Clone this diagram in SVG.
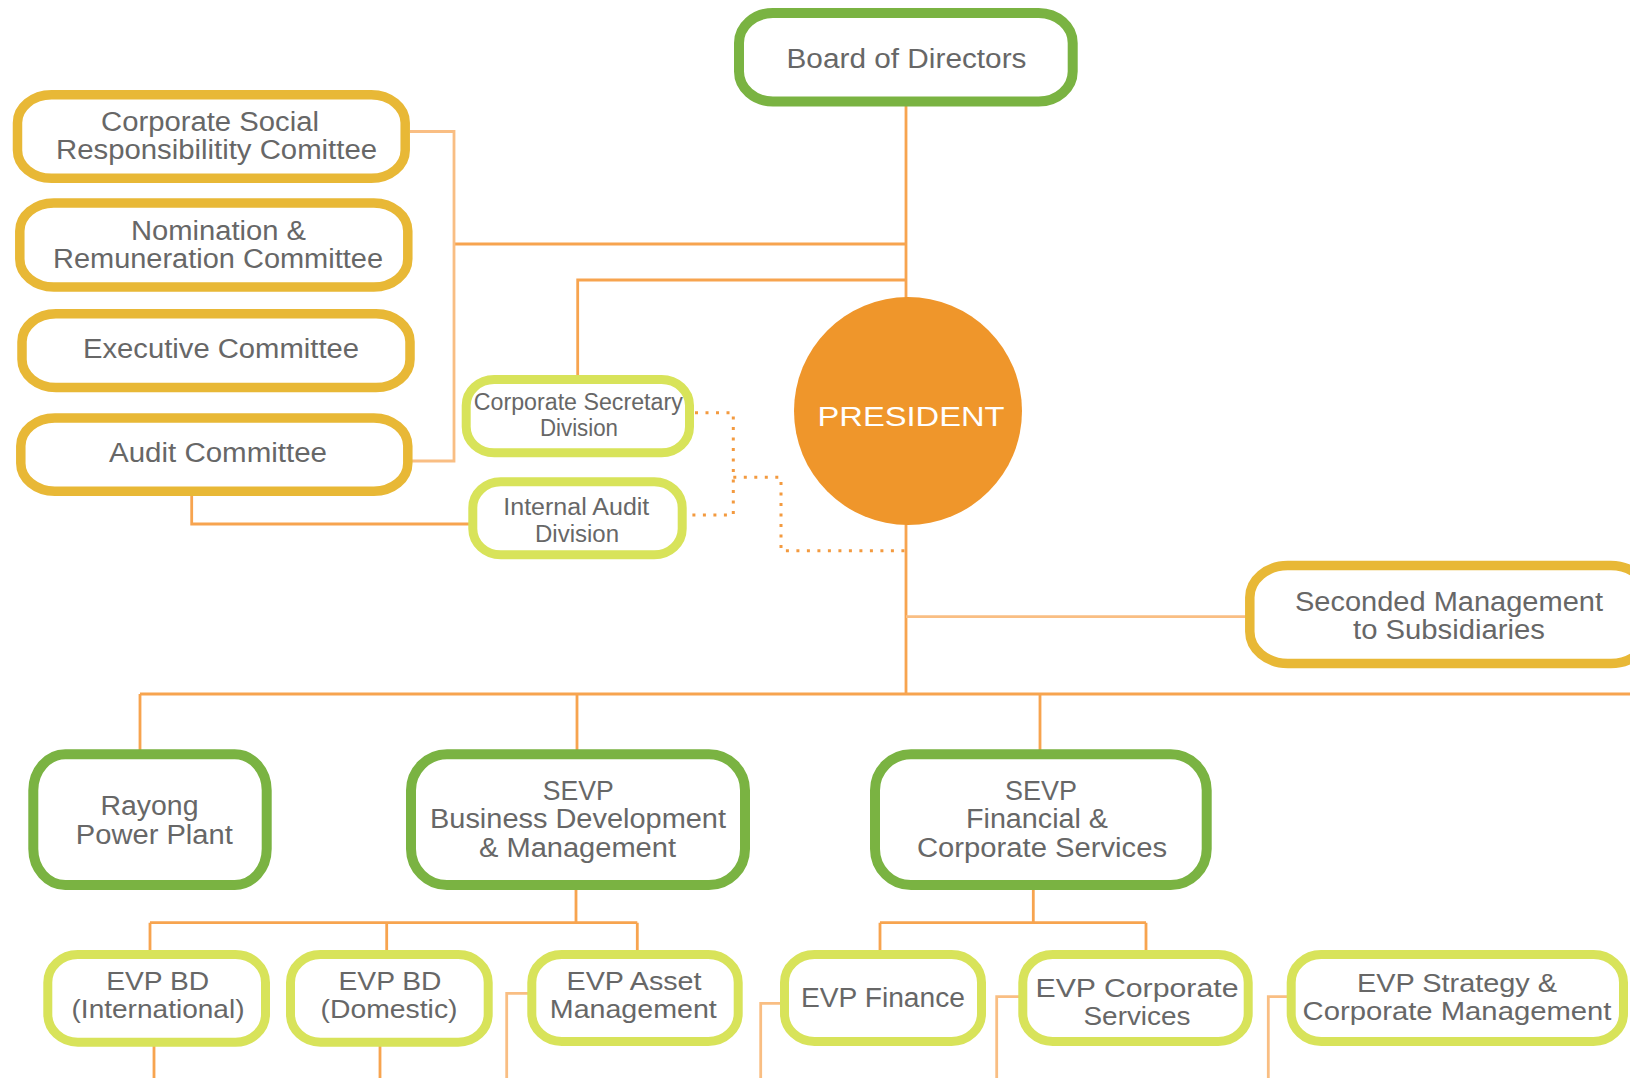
<svg xmlns="http://www.w3.org/2000/svg" width="1630" height="1078" viewBox="0 0 1630 1078">
<style>
.t{font-family:"Liberation Sans",Arial,sans-serif;font-size:27px;fill:#676767;text-anchor:middle}
.e{font-size:26px}
.s{font-size:23px}
.y{fill:#fff;stroke:#E8B836;stroke-width:9.5}
.g{fill:#fff;stroke:#7AB342;stroke-width:10}
.l{fill:#fff;stroke:#D8E35A;stroke-width:9}
.c{fill:none;stroke:#F7A44F;stroke-width:2.8}
.p{fill:none;stroke:#F9BE83;stroke-width:2.8}
.d{fill:none;stroke:#F39A3F;stroke-width:3;stroke-dasharray:3 7.5}
</style>
<rect width="1630" height="1078" fill="#fff"/>
<g id="connectors">
<path class="c" d="M906,106 V695"/>
<path class="c" d="M454,244 H906"/>
<path class="p" d="M410,131.5 H454 V461 H412"/>
<path class="c" d="M906,280 H577.7 V376"/>
<path class="c" d="M191.7,496 V524 H469"/>
<path class="p" d="M906,616.7 H1246"/>
<path class="c" d="M140,694 H1630 M140,694 V750 M577,694 V750 M1040,694 V750"/>
<path class="c" d="M576,890 V922.7 M150,922.7 H637.3 M150,922.7 V951 M386.7,922.7 V951 M637.3,922.7 V951"/>
<path class="c" d="M1033.3,890 V922.7 M880,922.7 H1146 M880,922.7 V951 M1146,922.7 V951"/>
<path class="c" d="M154,1046 V1078 M380,1046 V1078"/>
<path class="p" d="M532,993.3 H506.7 V1078 M781,1003.3 H760.7 V1078 M1019,996.7 H996.7 V1078 M1287,996.7 H1268.3 V1078"/>
<path class="d" d="M695,412.7 H733.3 V515 H687 M733.3,477.3 H781 V550.7 H906"/>
</g>
<g id="board"><rect class="g" x="739" y="13" width="333.7" height="88.6" rx="34" ry="30"/><text class="t" x="906.5" y="68" font-size="28" textLength="240" lengthAdjust="spacingAndGlyphs">Board of Directors</text></g>
<g id="csr"><rect class="y" x="17.5" y="94.8" width="387.7" height="83.5" rx="34" ry="28"/><text class="t" x="210" y="130.5" textLength="218" lengthAdjust="spacingAndGlyphs">Corporate Social</text><text class="t" x="216.5" y="158.5" textLength="321" lengthAdjust="spacingAndGlyphs">Responsibilitity Comittee</text></g>
<g id="nomination"><rect class="y" x="19.8" y="203" width="388" height="84" rx="34" ry="28"/><text class="t" x="218.5" y="239.5" textLength="175" lengthAdjust="spacingAndGlyphs">Nomination &amp;</text><text class="t" x="218" y="267.5" textLength="330" lengthAdjust="spacingAndGlyphs">Remuneration Committee</text></g>
<g id="executive"><rect class="y" x="22" y="313.8" width="388" height="73.8" rx="34" ry="28"/><text class="t" x="221" y="358" textLength="276" lengthAdjust="spacingAndGlyphs">Executive Committee</text></g>
<g id="audit"><rect class="y" x="20.8" y="418" width="387" height="73.2" rx="34" ry="28"/><text class="t" x="218" y="461.5" textLength="218" lengthAdjust="spacingAndGlyphs">Audit Committee</text></g>
<g id="corpsec"><rect class="l" x="466.2" y="379.5" width="223.3" height="73.3" rx="28" ry="26"/><text class="t s" x="578.3" y="409.5" textLength="209" lengthAdjust="spacingAndGlyphs">Corporate Secretary</text><text class="t s" x="579" y="436" textLength="78" lengthAdjust="spacingAndGlyphs">Division</text></g>
<g id="internalaudit"><rect class="l" x="472.8" y="481.8" width="209.4" height="73" rx="28" ry="26"/><text class="t s" x="576.3" y="514.5" textLength="146" lengthAdjust="spacingAndGlyphs">Internal Audit</text><text class="t s" x="577" y="541.5" textLength="84" lengthAdjust="spacingAndGlyphs">Division</text></g>
<g id="president"><circle cx="908" cy="411" r="114" fill="#EF962B"/><text class="t" x="911" y="426" font-size="40" style="fill:#fff" textLength="187" lengthAdjust="spacingAndGlyphs">PRESIDENT</text></g>
<g id="seconded"><rect class="y" x="1249.8" y="565.5" width="399" height="98" rx="38" ry="32"/><text class="t" x="1449" y="611" textLength="308" lengthAdjust="spacingAndGlyphs">Seconded Management</text><text class="t" x="1449" y="639" textLength="192" lengthAdjust="spacingAndGlyphs">to Subsidiaries</text></g>
<g id="rayong"><rect class="g" x="33.3" y="754.3" width="233.4" height="130.7" rx="32" ry="36"/><text class="t" x="149.5" y="815" textLength="98" lengthAdjust="spacingAndGlyphs">Rayong</text><text class="t" x="154.3" y="844" textLength="157" lengthAdjust="spacingAndGlyphs">Power Plant</text></g>
<g id="sevp-bd"><rect class="g" x="411" y="754.3" width="334" height="130.7" rx="36" ry="36"/><text class="t" x="578.3" y="800" textLength="71" lengthAdjust="spacingAndGlyphs">SEVP</text><text class="t" x="578" y="828.3" textLength="296" lengthAdjust="spacingAndGlyphs">Business Development</text><text class="t" x="577.5" y="857" textLength="197" lengthAdjust="spacingAndGlyphs">&amp; Management</text></g>
<g id="sevp-fin"><rect class="g" x="875" y="754.3" width="331.7" height="130.7" rx="36" ry="36"/><text class="t" x="1041" y="800" textLength="72" lengthAdjust="spacingAndGlyphs">SEVP</text><text class="t" x="1037" y="828.3" textLength="142" lengthAdjust="spacingAndGlyphs">Financial &amp;</text><text class="t" x="1042" y="857" textLength="250" lengthAdjust="spacingAndGlyphs">Corporate Services</text></g>
<g id="evp-bd-int"><rect class="l" x="47.8" y="954.5" width="217.7" height="87.7" rx="30" ry="28"/><text class="t e" x="157.7" y="989.5" textLength="103" lengthAdjust="spacingAndGlyphs">EVP BD</text><text class="t e" x="158" y="1017.5" textLength="173" lengthAdjust="spacingAndGlyphs">(International)</text></g>
<g id="evp-bd-dom"><rect class="l" x="290.5" y="954.5" width="197.7" height="87.7" rx="30" ry="28"/><text class="t e" x="390" y="989.5" textLength="103" lengthAdjust="spacingAndGlyphs">EVP BD</text><text class="t e" x="389" y="1017.5" textLength="137" lengthAdjust="spacingAndGlyphs">(Domestic)</text></g>
<g id="evp-asset"><rect class="l" x="531.8" y="954.5" width="206.4" height="87" rx="30" ry="28"/><text class="t e" x="634" y="989.5" textLength="135" lengthAdjust="spacingAndGlyphs">EVP Asset</text><text class="t e" x="633.3" y="1017.5" textLength="167" lengthAdjust="spacingAndGlyphs">Management</text></g>
<g id="evp-finance"><rect class="l" x="784.5" y="954.5" width="197" height="87" rx="30" ry="28"/><text class="t" x="883" y="1007" textLength="164" lengthAdjust="spacingAndGlyphs">EVP Finance</text></g>
<g id="evp-cs"><rect class="l" x="1022.8" y="954.5" width="225.4" height="87" rx="30" ry="28"/><text class="t e" x="1137" y="996.5" textLength="203" lengthAdjust="spacingAndGlyphs">EVP  Corporate</text><text class="t e" x="1137" y="1024.5" textLength="107" lengthAdjust="spacingAndGlyphs">Services</text></g>
<g id="evp-strategy"><rect class="l" x="1291.2" y="954.5" width="332.3" height="87" rx="30" ry="28"/><text class="t e" x="1457" y="992" textLength="200" lengthAdjust="spacingAndGlyphs">EVP Strategy &amp;</text><text class="t e" x="1457" y="1020" textLength="309" lengthAdjust="spacingAndGlyphs">Corporate Management</text></g>
</svg>
